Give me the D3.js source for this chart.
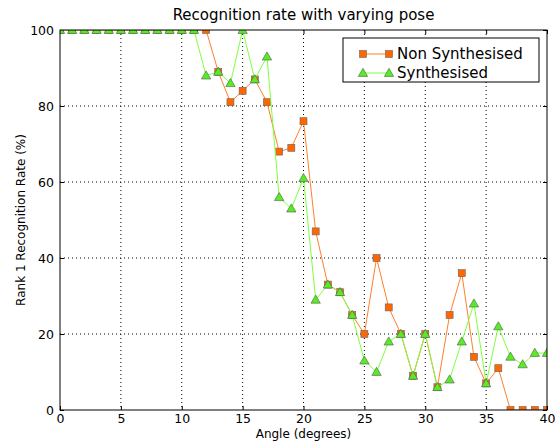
<!DOCTYPE html>
<html>
<head>
<meta charset="utf-8">
<script src="https://cdn.jsdelivr.net/npm/d3@7"></script>
<style>
  body { margin: 0; background: #fff; }
  text { font-family: "DejaVu Sans", sans-serif; fill: #000; }
</style>
</head>
<body>
<div id="chart"></div>
<script>
var svgWidth = 555;
var svgHeight = 445;

var margin = { top: 30, right: 8, bottom: 35, left: 60 };
var width = svgWidth - margin.left - margin.right;
var height = svgHeight - margin.top - margin.bottom;

// data
var angles = d3.range(0, 41);
var nonSynth = [100, 100, 100, 100, 100, 100, 100, 100, 100, 100,
  100, 100, 100, 89, 81, 84, 87, 81, 68, 69,
  76, 47, 33, 31, 25, 20, 40, 27, 20, 9,
  20, 6, 25, 36, 14, 7, 11, 0, 0, 0, 0];
var synth = [100, 100, 100, 100, 100, 100, 100, 100, 100, 100,
  100, 100, 88, 89, 86, 100, 87, 93, 56, 53,
  61, 29, 33, 31, 25, 13, 10, 18, 20, 9,
  20, 6, 8, 18, 28, 7, 22, 14, 12, 15, 15];
var xTicks = [0, 5, 10, 15, 20, 25, 30, 35, 40];
var yTicks = [0, 20, 40, 60, 80, 100];
var seriesNames = ["Non Synthesised", "Synthesised"];

var svg = d3.select("#chart").append("svg")
  .attr("width", svgWidth)
  .attr("height", svgHeight);

svg.append("defs").append("clipPath").attr("id", "plotClip")
  .append("rect").attr("width", width).attr("height", height);

var chartGroup = svg.append("g")
  .attr("transform", `translate(${margin.left}, ${margin.top})`);

var x = d3.scaleLinear().domain([0, 40]).range([0, width]);
var y = d3.scaleLinear().domain([0, 100]).range([height, 0]);

// dotted grid
chartGroup.append("g").selectAll("line").data(xTicks.slice(1, -1)).enter()
  .append("line")
  .attr("x1", d => x(d)).attr("x2", d => x(d))
  .attr("y1", 0).attr("y2", height)
  .attr("stroke", "#000").attr("stroke-width", 1)
  .attr("stroke-dasharray", "1,3");
chartGroup.append("g").selectAll("line").data(yTicks.slice(1, -1)).enter()
  .append("line")
  .attr("y1", d => y(d)).attr("y2", d => y(d))
  .attr("x1", 0).attr("x2", width)
  .attr("stroke", "#000").attr("stroke-width", 1)
  .attr("stroke-dasharray", "1,3");

// axes with inward ticks
var bottomAxis = d3.axisBottom(x).tickValues(xTicks).tickSize(-4).tickPadding(4);
var topAxis = d3.axisTop(x).tickValues(xTicks).tickSize(-4).tickFormat("");
var leftAxis = d3.axisLeft(y).tickValues(yTicks).tickSize(-4).tickPadding(6);
var rightAxis = d3.axisRight(y).tickValues(yTicks).tickSize(-4).tickFormat("");

[
  chartGroup.append("g").attr("transform", `translate(0, ${height})`).call(bottomAxis),
  chartGroup.append("g").call(topAxis),
  chartGroup.append("g").call(leftAxis),
  chartGroup.append("g").attr("transform", `translate(${width}, 0)`).call(rightAxis)
].forEach(function(g) {
  g.select(".domain").remove();
  g.selectAll("line").attr("stroke", "#000");
  g.selectAll("text").style("font-size", "12.5px").attr("fill", "#000");
});

// lines and markers, clipped to the plot area
var plot = chartGroup.append("g").attr("clip-path", "url(#plotClip)");
var line = d3.line().x((d, i) => x(angles[i])).y(d => y(d));
var triangle = d3.symbol().type(d3.symbolTriangle).size(38);

plot.append("path").datum(nonSynth)
  .attr("d", line).attr("fill", "none")
  .attr("stroke", "#ff7f2a").attr("stroke-width", 1);
plot.append("g").selectAll("rect").data(nonSynth).enter()
  .append("rect")
  .attr("x", (d, i) => x(angles[i]) - 3.5)
  .attr("y", d => y(d) - 3.5)
  .attr("width", 7).attr("height", 7)
  .attr("fill", "#ff6600").attr("stroke", "#666").attr("stroke-width", 0.6);

plot.append("path").datum(synth)
  .attr("d", line).attr("fill", "none")
  .attr("stroke", "#7fff3f").attr("stroke-width", 1);
plot.append("g").selectAll("path").data(synth).enter()
  .append("path")
  .attr("d", triangle)
  .attr("transform", (d, i) => `translate(${x(angles[i])}, ${y(d) + 0.7})`)
  .attr("fill", "#55ee22").attr("stroke", "#555").attr("stroke-width", 0.6);

// frame
chartGroup.append("rect")
  .attr("width", width).attr("height", height)
  .attr("fill", "none").attr("stroke", "#000").attr("stroke-width", 1);

// legend
var legend = chartGroup.append("g").attr("transform", "translate(283, 8)");
legend.append("rect")
  .attr("width", 196).attr("height", 44)
  .attr("fill", "#fff").attr("stroke", "#000").attr("stroke-width", 1);

legend.append("line").attr("x1", 20).attr("x2", 46).attr("y1", 16).attr("y2", 16)
  .attr("stroke", "#ff7f2a");
[20, 46].forEach(function(px) {
  legend.append("rect").attr("x", px - 3.5).attr("y", 12.5).attr("width", 7).attr("height", 7)
    .attr("fill", "#ff6600").attr("stroke", "#666").attr("stroke-width", 0.6);
});
legend.append("line").attr("x1", 20).attr("x2", 46).attr("y1", 35).attr("y2", 35)
  .attr("stroke", "#7fff3f");
[20, 46].forEach(function(px) {
  legend.append("path").attr("d", triangle)
    .attr("transform", `translate(${px}, ${35.7})`)
    .attr("fill", "#55ee22").attr("stroke", "#555").attr("stroke-width", 0.6);
});
legend.selectAll("text.lbl").data(seriesNames).enter()
  .append("text").attr("class", "lbl")
  .attr("x", 54).attr("y", (d, i) => 16 + i * 19)
  .attr("dy", "0.35em")
  .style("font-size", "15px")
  .text(d => d);

// title and axis labels
svg.append("text")
  .attr("x", margin.left + width / 2).attr("y", 20)
  .attr("text-anchor", "middle")
  .style("font-size", "15px")
  .text("Recognition rate with varying pose");

svg.append("text")
  .attr("x", margin.left + width / 2).attr("y", 438)
  .attr("text-anchor", "middle")
  .style("font-size", "12px")
  .text("Angle (degrees)");

svg.append("text")
  .attr("transform", `translate(25, ${margin.top + height / 2}) rotate(-90)`)
  .attr("text-anchor", "middle")
  .style("font-size", "12px")
  .text("Rank 1 Recognition Rate (%)");
</script>
</body>
</html>
